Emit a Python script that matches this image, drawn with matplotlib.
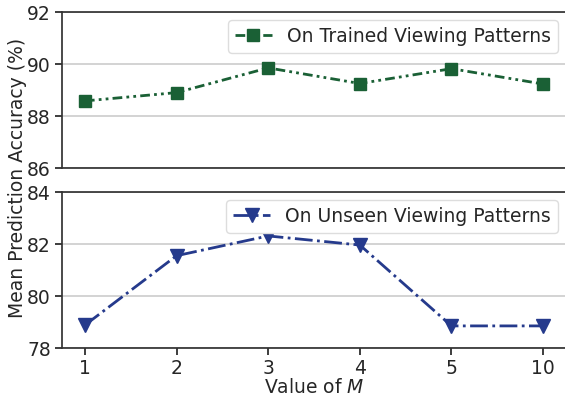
import matplotlib
matplotlib.use("Agg")
import matplotlib.pyplot as plt
import seaborn as sns

# values of M and the accuracy measured for each
m_values = ["1", "2", "3", "4", "5", "10"]
acc_trained = [88.58, 88.90, 89.85, 89.25, 89.82, 89.23]
acc_unseen = [78.88, 81.55, 82.31, 81.96, 78.85, 78.85]

sns.set_theme(style="ticks")
plt.rcParams["font.family"] = ["DejaVu Sans"]
fs = 13.5

fig = plt.figure(figsize=(5.65, 3.99), dpi=100)
ax_top = fig.add_axes([62 / 565, 1 - 168 / 399, (566 - 62) / 565, 156 / 399])
ax_bot = fig.add_axes([62 / 565, 1 - 348 / 399, (566 - 62) / 565, 156 / 399])

x = list(range(len(m_values)))

ax_top.plot(x, acc_trained, color="#1a6035", linestyle=(0, (3.5, 1.5, 1, 1.5, 1, 1.5)),
            linewidth=2, marker="s", markersize=8.5, label="On Trained Viewing Patterns")
ax_bot.plot(x, acc_unseen, color="#253a8c", linestyle="-.", linewidth=2,
            marker="v", markersize=10.5, label="On Unseen Viewing Patterns")

ax_top.set_ylim(86, 92)
ax_top.set_yticks([86, 88, 90, 92])
ax_bot.set_ylim(78, 84)
ax_bot.set_yticks([78, 80, 82, 84])

for ax in (ax_top, ax_bot):
    ax.set_xlim(-0.25, 5.25)
    ax.yaxis.grid(True, color="#cccccc", linewidth=1.2)
    ax.tick_params(labelsize=fs, length=5, pad=3)
    for s in ax.spines.values():
        s.set_color("#333333")
    ax.legend(loc="upper right", fontsize=fs, frameon=True, borderpad=0.35,
              handlelength=2.0, edgecolor="#dddddd", framealpha=1,
              borderaxespad=0.45)

ax_top.set_xticks(x)
ax_top.tick_params(axis="x", bottom=False, labelbottom=False)
ax_bot.set_xticks(x)
ax_bot.set_xticklabels(m_values)
ax_bot.set_xlabel("Value of $M$", fontsize=fs, labelpad=0)

fig.text(18 / 565, 1 - 178 / 399, "Mean Prediction Accuracy (%)", rotation=90,
         ha="center", va="center", fontsize=fs)

fig.savefig("out.png", dpi=100)
